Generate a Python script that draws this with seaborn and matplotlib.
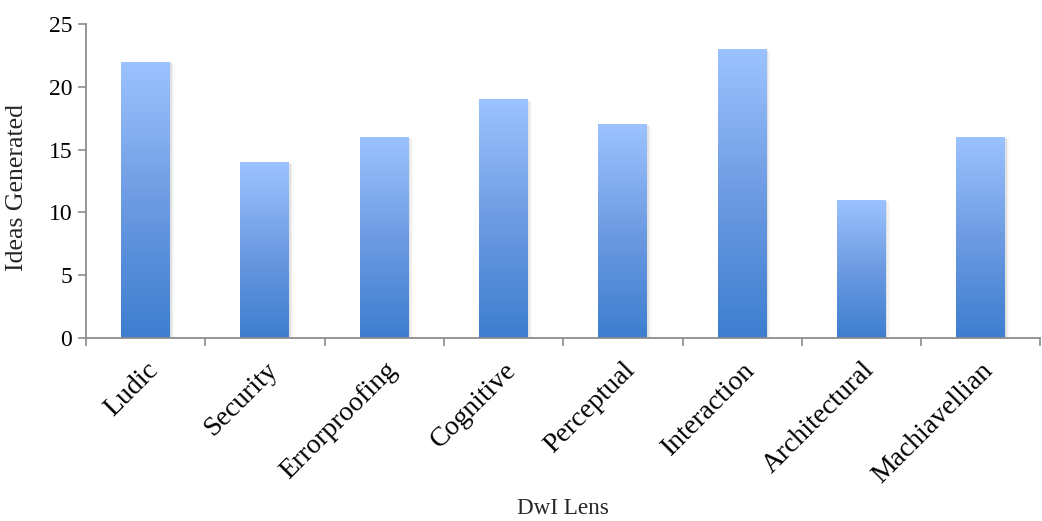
import numpy as np
import pandas as pd
import matplotlib
matplotlib.use("Agg")
import matplotlib.pyplot as plt
import seaborn as sns
from matplotlib.colors import LinearSegmentedColormap
from matplotlib.patches import Rectangle

lenses = ["Ludic", "Security", "Errorproofing", "Cognitive",
          "Perceptual", "Interaction", "Architectural", "Machiavellian"]
ideas = [22, 14, 16, 19, 17, 23, 11, 16]
y_ticks = [0, 5, 10, 15, 20, 25]

sns.set_theme(style="white")
plt.rcParams["font.family"] = ["Liberation Serif", "DejaVu Serif"]

df = pd.DataFrame({"lens": lenses, "ideas": ideas})

fig = plt.figure(figsize=(10.42, 5.21), dpi=100)
ax = fig.add_axes([0.0825, 0.351, 0.916, 0.603])

sns.barplot(data=df, x="lens", y="ideas", ax=ax, width=0.41,
            color="#6f9fe6", saturation=1, edgecolor="none")

# vertical gradient fill: light top, darker base
grad = LinearSegmentedColormap.from_list(
    "bar_grad", ["#3d7ecf", "#6d9be2", "#9cc3ff"])
gradient = np.linspace(0, 1, 256).reshape(-1, 1)
for p in ax.patches:
    x0, y0 = p.get_x(), p.get_y()
    w, h = p.get_width(), p.get_height()
    # soft drop shadow
    for i, a in enumerate([0.06, 0.04, 0.02]):
        off = 0.012 * (i + 1)
        sh = Rectangle((x0 + off * 0.6, y0 - 0.06 * (i + 1)), w + off * 0.4, h,
                       facecolor="black", alpha=a, edgecolor="none", zorder=1)
        ax.add_patch(sh)
    p.set_facecolor("none")
    im = ax.imshow(gradient, cmap=grad, aspect="auto", origin="lower",
                   extent=[x0, x0 + w, y0, y0 + h], zorder=2)
    im.set_clip_path(p)

ax.set_xlim(-0.5, len(lenses) - 0.5)
ax.set_ylim(0, 25)
ax.set_yticks(y_ticks)
ax.set_yticklabels([str(t) for t in y_ticks], fontsize=17, color="black")

ax.set_xticks(range(len(lenses)))
ax.set_xticklabels(lenses, rotation=45, ha="right", rotation_mode="anchor",
                   fontsize=20, color="black")
ax.set_xticks(np.arange(-0.5, len(lenses), 1.0), minor=True)
ax.tick_params(axis="x", which="major", length=0, pad=14)
ax.tick_params(axis="x", which="minor", length=6, width=1.2, color="#8c8c8c",
               direction="out", bottom=True)
ax.tick_params(axis="y", length=6, width=1.2, color="#8c8c8c",
               direction="out", left=True, pad=4)

for s in ["top", "right"]:
    ax.spines[s].set_visible(False)
for s in ["left", "bottom"]:
    ax.spines[s].set_color("#8c8c8c")
    ax.spines[s].set_linewidth(1.3)
ax.spines["bottom"].set_zorder(5)

ax.set_ylabel("Ideas Generated", fontsize=18.5)
ax.yaxis.set_label_coords(-0.0605, 0.48)
ax.set_xlabel("DwI Lens", fontsize=16.7)
ax.xaxis.set_label_coords(0.5, -0.508)

fig.savefig("out.png", dpi=100, facecolor="white")
